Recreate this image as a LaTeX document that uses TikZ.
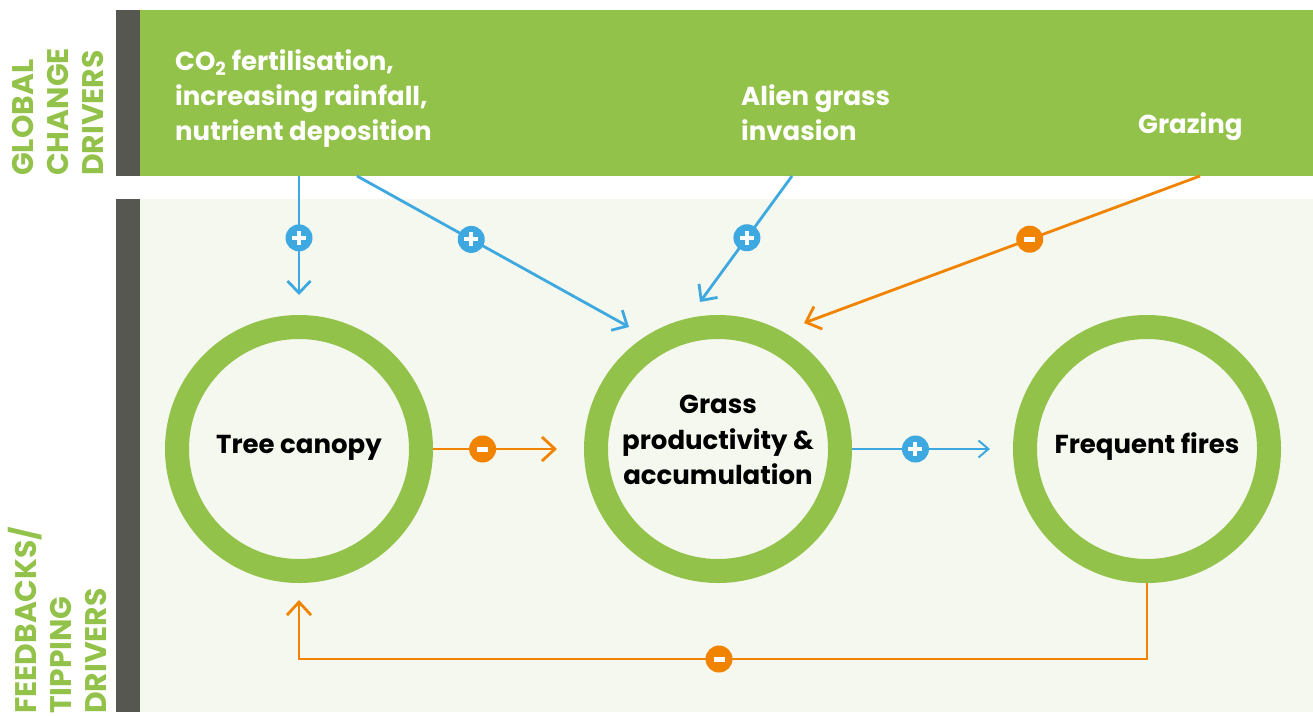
\documentclass[tikz,border=0pt]{standalone}
\usepackage{fontspec}
\setmainfont{Poppins}
\usetikzlibrary{arrows.meta}
\definecolor{gr}{HTML}{93C24A}
\definecolor{darkbar}{HTML}{575751}
\definecolor{bgl}{HTML}{F5F8EE}
\definecolor{bl}{HTML}{3EA8E0}
\definecolor{orn}{HTML}{F08300}
\tikzset{
  ring/.style={circle, draw=gr, line width=24pt, minimum size=244pt, inner sep=0pt, outer sep=12pt},
  ctext/.style={font=\bfseries\fontsize{26}{35.5}\selectfont, align=center, inner sep=0pt, text=black},
  ttext/.style={font=\bfseries\fontsize{26}{35}\selectfont, align=left, inner sep=0pt, text=white},
  sidelbl/.style={rotate=90, font=\bfseries\fontsize{29.8}{35}\selectfont, align=left, inner sep=0pt, text=gr},
  bline/.style={draw=bl, line width=2.8pt, -{Straight Barb[length=12pt,width=23pt]}},
  blinethin/.style={draw=bl, line width=2pt, -{Straight Barb[length=10pt,width=17pt]}},
  oline/.style={draw=orn, line width=2.8pt, -{Straight Barb[length=13pt,width=24pt]}},
  plusb/.style={circle, fill=bl, minimum size=27pt, inner sep=0pt,
    path picture={
      \fill[white] ([xshift=-7pt,yshift=-2pt]path picture bounding box.center) rectangle ([xshift=7pt,yshift=2pt]path picture bounding box.center);
      \fill[white] ([xshift=-2pt,yshift=-7pt]path picture bounding box.center) rectangle ([xshift=2pt,yshift=7pt]path picture bounding box.center);}},
  minusb/.style={circle, fill=orn, minimum size=27pt, inner sep=0pt,
    path picture={
      \fill[white] ([xshift=-5.5pt,yshift=-2.5pt]path picture bounding box.center) rectangle ([xshift=5.5pt,yshift=2.5pt]path picture bounding box.center);}}
}
\begin{document}
\begin{tikzpicture}[x=1pt,y=-1pt]
\useasboundingbox (0,0) rectangle (1313,715);
\fill[white] (0,0) rectangle (1313,715);
% bands
\fill[darkbar] (116,10) rectangle (140,176);
\fill[gr] (140,10) rectangle (1313,176);
\fill[darkbar] (116,199) rectangle (140,712);
\fill[bgl] (140,199) rectangle (1313,712);
% side labels
\node[sidelbl, anchor=west] (glob) at (57.5,176) {GLOBAL\\CHANGE\\DRIVERS};
\node[sidelbl, anchor=west] (feed) at (57.5,714) {FEEDBACKS/\\TIPPING\\DRIVERS};
% driver texts
\node[ttext, anchor=west] (co2) at (175,99) {CO\textsubscript{2} fertilisation,\\increasing rainfall,\\nutrient deposition};
\node[ttext, anchor=west] (alien) at (741,113) {Alien grass\\invasion};
\node[ttext, anchor=west] (graz) at (1138,127) {Grazing};
% circles
\node[ring] (tree) at (299,449) {};
\node[ring] (grass) at (718,449) {};
\node[ring] (fire) at (1147,449) {};
\node[ctext, anchor=base] (treet) at (299,453) {Tree canopy};
\node[ctext] (grasst) at (718,440) {Grass\\productivity \&\\accumulation};
\node[ctext, anchor=base] (firet) at (1147,453) {Frequent fires};
% connector endpoints
\coordinate (s1) at (299,176); \coordinate (e1) at (299,295);
\coordinate (s2) at (357,176); \coordinate (e2) at (629,327);
\coordinate (s3) at (792,176); \coordinate (e3) at (700,302);
\coordinate (s4) at (1200,176); \coordinate (e4) at (804,323);
\coordinate (e5) at (557,449);
\coordinate (e6) at (990,449);
\coordinate (e7) at (299,600);
% connectors
\draw[bline] (s1) -- node[plusb, pos=0.52] (b1) {} (e1);
\draw[bline] (s2) -- node[plusb, pos=0.42] (b2) {} (e2);
\draw[bline] (s3) -- node[plusb, pos=0.49] (b3) {} (e3);
\draw[oline] (s4) -- node[minusb, pos=0.43] (b4) {} (e4);
\draw[oline] (tree.east) -- node[minusb, pos=0.4] (b5) {} (e5);
\draw[blinethin] (grass.east) -- node[plusb, pos=0.46] (b6) {} (e6);
\draw[oline] (fire.south) -- ++(0,76) -| (e7);
\node[minusb] (b7) at (719,659) {};
\end{tikzpicture}
\end{document}
